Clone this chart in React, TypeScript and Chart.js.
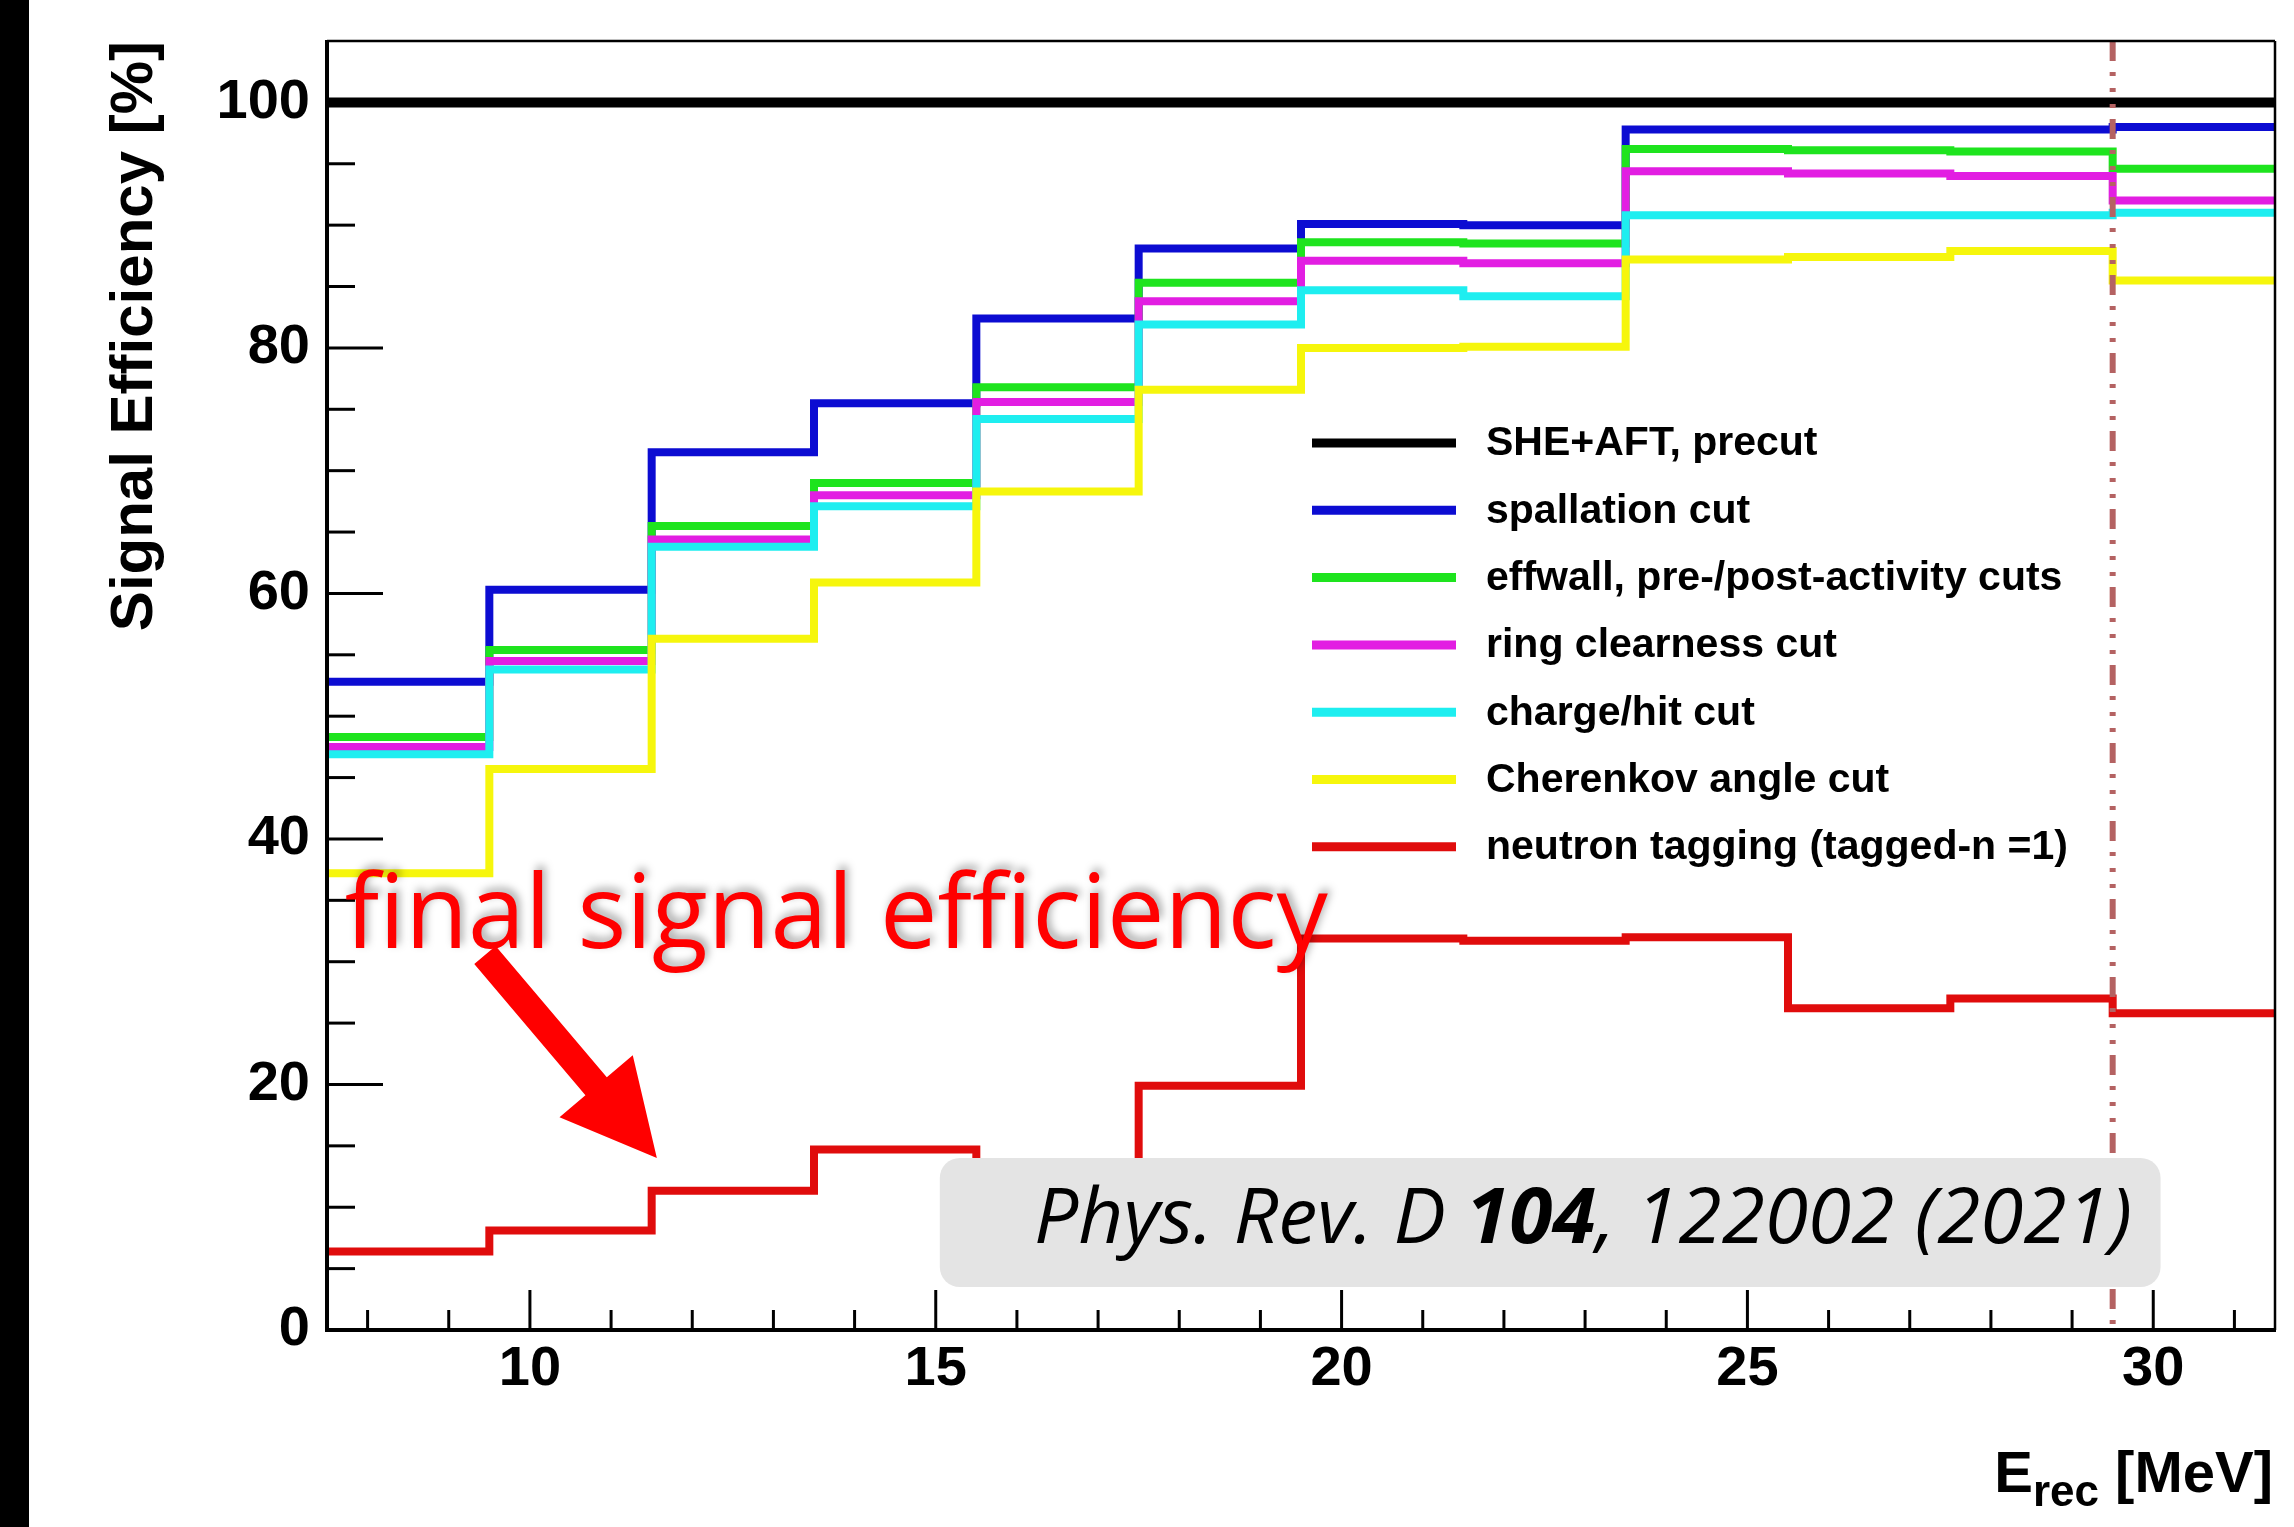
import { useEffect, useRef } from 'react';
import { Chart, registerables } from 'chart.js';

Chart.register(...registerables);

// ---------------- data ----------------
const binEdges = [7.5, 9.5, 11.5, 13.5, 15.5, 17.5, 19.5, 21.5, 23.5, 25.5, 27.5, 29.5, 31.5];

const precut = [100, 100, 100, 100, 100, 100, 100, 100, 100, 100, 100, 100];
const spallation = [52.8, 60.3, 71.5, 75.5, 82.4, 88.1, 90.1, 90.0, 97.8, 97.8, 97.8, 98.0];
const effwall = [48.3, 55.4, 65.5, 69.0, 76.8, 85.3, 88.6, 88.5, 96.2, 96.1, 96.0, 94.6];
const ringClearness = [47.5, 54.5, 64.4, 68.0, 75.6, 83.8, 87.1, 86.9, 94.4, 94.2, 94.0, 92.0];
const chargeHit = [46.9, 53.8, 63.8, 67.1, 74.2, 81.9, 84.7, 84.2, 90.8, 90.8, 90.8, 91.0];
const cherenkov = [37.2, 45.7, 56.3, 60.9, 68.3, 76.6, 80.0, 80.1, 87.2, 87.4, 87.9, 85.5];
const neutronTagging = [6.4, 8.1, 11.35, 14.7, 12.5, 19.9, 31.9, 31.7, 32.0, 26.2, 27.0, 25.8];

const seriesLabels = [
  'SHE+AFT, precut',
  'spallation cut',
  'effwall, pre-/post-activity cuts',
  'ring clearness cut',
  'charge/hit cut',
  'Cherenkov angle cut',
  'neutron tagging (tagged-n =1)',
];
const seriesValues = [precut, spallation, effwall, ringClearness, chargeHit, cherenkov, neutronTagging];
const seriesColors = ['#000000', '#0c0cd2', '#1ee41e', '#e21ee2', '#1eeef0', '#f6f60c', '#e00c0c'];

const xTickValues = [8, 9, 10, 11, 12, 13, 14, 15, 16, 17, 18, 19, 20, 21, 22, 23, 24, 25, 26, 27, 28, 29, 30, 31];
const xLabelValues = [10, 15, 20, 25, 30];
const yTickValues = [0, 5, 10, 15, 20, 25, 30, 35, 40, 45, 50, 55, 60, 65, 70, 75, 80, 85, 90, 95, 100];
const yLabelValues = [0, 20, 40, 60, 80, 100];

const cutEnergy = 29.5;
const annotationText = 'final signal efficiency';
const citationParts = [
  { text: 'Phys. Rev. D ', bold: false },
  { text: '104', bold: true },
  { text: ', 122002 (2021)', bold: false },
];

// ---------------- helpers ----------------
const W = 2294;
const H = 1527;
const AREA = { left: 327, top: 41, right: 2275, bottom: 1330 };
const TICK_FONT = 'Liberation Sans';

function toSteps(vals: number[]) {
  const pts = vals.map((v, i) => ({ x: binEdges[i], y: v }));
  pts.push({ x: binEdges[binEdges.length - 1], y: vals[vals.length - 1] });
  return pts;
}

const backgroundPlugin = {
  id: 'bg',
  beforeDraw(chart: any) {
    const { ctx } = chart;
    ctx.save();
    ctx.fillStyle = '#ffffff';
    ctx.fillRect(0, 0, chart.width, chart.height);
    ctx.fillStyle = '#000000';
    ctx.fillRect(0, 0, 29, chart.height);
    ctx.restore();
  },
};

const overlayPlugin = {
  id: 'overlay',
  afterDatasetsDraw(chart: any) {
    const { ctx, chartArea: a } = chart;
    const xs = chart.scales.x;
    const ys = chart.scales.y;
    const line = (x1: number, y1: number, x2: number, y2: number) => {
      ctx.beginPath();
      ctx.moveTo(x1, y1);
      ctx.lineTo(x2, y2);
      ctx.stroke();
    };
    ctx.save();

    // cut line (dash-dot-dot-dot)
    ctx.save();
    ctx.strokeStyle = '#b46262';
    ctx.lineWidth = 6;
    ctx.setLineDash([20, 11, 4, 12, 4, 12, 4, 11]);
    const cx = xs.getPixelForValue(cutEnergy);
    line(cx, a.top, cx, a.bottom);
    ctx.restore();

    // ticks (inside, ROOT style)
    ctx.strokeStyle = '#000';
    ctx.lineWidth = 3;
    ctx.lineCap = 'butt';
    xs.ticks.forEach((t: any) => {
      const px = xs.getPixelForValue(t.value);
      const len = xLabelValues.includes(t.value) ? 40 : 20;
      line(px, a.bottom, px, a.bottom - len);
    });
    ys.ticks.forEach((t: any) => {
      const py = ys.getPixelForValue(t.value);
      const len = yLabelValues.includes(t.value) ? 56 : 28;
      line(a.left, py, a.left + len, py);
    });

    // frame
    ctx.lineWidth = 2.5;
    line(a.left, a.top, a.right, a.top);
    line(a.right, a.top, a.right, a.bottom);
    ctx.lineWidth = 4;
    line(a.left, a.top - 1, a.left, a.bottom + 2);
    line(a.left - 2, a.bottom, a.right + 1, a.bottom);

    // legend
    const lx0 = a.left + 985;
    const lx1 = a.left + 1129;
    const tx = a.left + 1159;
    const row0 = a.top + 402;
    const step = 67.3;
    ctx.font = `bold 41px "${TICK_FONT}"`;
    ctx.textBaseline = 'middle';
    ctx.textAlign = 'left';
    chart.data.datasets.forEach((ds: any, i: number) => {
      const yy = row0 + i * step;
      ctx.strokeStyle = ds.borderColor;
      ctx.lineWidth = 9;
      line(lx0, yy, lx1, yy);
      ctx.fillStyle = '#000';
      ctx.fillText(ds.label, tx, yy + 1);
    });

    // x-axis title  E_rec [MeV]
    ctx.fillStyle = '#000';
    ctx.textBaseline = 'alphabetic';
    const mainFont = `bold 58px "${TICK_FONT}"`;
    const subFont = `bold 44px "${TICK_FONT}"`;
    ctx.font = mainFont;
    const wE = ctx.measureText('E').width;
    const wRest = ctx.measureText(' [MeV]').width;
    ctx.font = subFont;
    const wSub = ctx.measureText('rec').width;
    const baseY = 1492;
    let px0 = a.right - 2 - (wE + wSub + wRest);
    ctx.font = mainFont;
    ctx.fillText('E', px0, baseY);
    px0 += wE;
    ctx.font = subFont;
    ctx.fillText('rec', px0, baseY + 14);
    px0 += wSub;
    ctx.font = mainFont;
    ctx.fillText(' [MeV]', px0, baseY);

    // annotation text
    ctx.save();
    ctx.font = '103px "Open Sans"';
    ctx.fillStyle = '#ff0000';
    ctx.shadowColor = 'rgba(0,0,0,0.35)';
    ctx.shadowBlur = 8;
    ctx.shadowOffsetX = 3;
    ctx.shadowOffsetY = -4;
    const ax = xs.getPixelForValue(7.72);
    const ay = ys.getPixelForValue(31.1);
    const axEnd = xs.getPixelForValue(19.83);
    ctx.fillText(annotationText, ax, ay, axEnd - ax);
    ctx.restore();

    // arrow
    const sx = xs.getPixelForValue(9.446);
    const sy = ys.getPixelForValue(30.55);
    const tipX = xs.getPixelForValue(11.564);
    const tipY = ys.getPixelForValue(14.01);
    const dx = tipX - sx;
    const dy = tipY - sy;
    const len = Math.hypot(dx, dy);
    const ux = dx / len;
    const uy = dy / len;
    const nx = -uy;
    const ny = ux;
    const headLen = 94;
    const headHalf = 48;
    const shaftHalf = 14;
    const bx = tipX - ux * headLen;
    const by = tipY - uy * headLen;
    ctx.fillStyle = '#ff0000';
    ctx.beginPath();
    ctx.moveTo(sx + nx * shaftHalf, sy + ny * shaftHalf);
    ctx.lineTo(bx + nx * shaftHalf, by + ny * shaftHalf);
    ctx.lineTo(bx + nx * headHalf, by + ny * headHalf);
    ctx.lineTo(tipX, tipY);
    ctx.lineTo(bx - nx * headHalf, by - ny * headHalf);
    ctx.lineTo(bx - nx * shaftHalf, by - ny * shaftHalf);
    ctx.lineTo(sx - nx * shaftHalf, sy - ny * shaftHalf);
    ctx.closePath();
    ctx.fill();

    // citation box
    const bl = xs.getPixelForValue(15.05);
    const br = xs.getPixelForValue(30.09);
    const bt = ys.getPixelForValue(14.01);
    const bb = ys.getPixelForValue(3.5);
    ctx.fillStyle = '#e4e4e4';
    ctx.beginPath();
    ctx.roundRect(bl, bt, br - bl, bb - bt, 20);
    ctx.fill();

    const fontFor = (bold: boolean) => `italic ${bold ? 'bold ' : ''}77px "Open Sans"`;
    let total = 0;
    const widths = citationParts.map((p) => {
      ctx.font = fontFor(p.bold);
      const w = ctx.measureText(p.text).width;
      total += w;
      return w;
    });
    const tl = xs.getPixelForValue(16.21);
    const tr = xs.getPixelForValue(29.74);
    const scaleX = Math.max(0.8, Math.min(1.2, (tr - tl) / total));
    ctx.save();
    ctx.translate(tl, ys.getPixelForValue(7.09));
    ctx.scale(scaleX, 1);
    ctx.fillStyle = '#000';
    ctx.textAlign = 'left';
    ctx.textBaseline = 'alphabetic';
    let cur = 0;
    citationParts.forEach((p, i) => {
      ctx.font = fontFor(p.bold);
      ctx.fillText(p.text, cur, 0);
      cur += widths[i];
    });
    ctx.restore();

    ctx.restore();
  },
};

export default function App() {
  const ref = useRef<HTMLCanvasElement | null>(null);

  useEffect(() => {
    document.body.style.margin = '0';
    const canvas = ref.current;
    if (!canvas) return;
    Chart.defaults.font.family = TICK_FONT;
    const chart = new Chart(canvas, {
      type: 'line',
      data: {
        datasets: seriesLabels.map((label, i) => ({
          label,
          data: toSteps(seriesValues[i]),
          borderColor: seriesColors[i],
          backgroundColor: seriesColors[i],
          borderWidth: i === 0 ? 10 : 8,
          stepped: true,
          pointRadius: 0,
          pointHoverRadius: 0,
          fill: false,
          tension: 0,
          order: 10 - i,
          clip: 0,
          borderJoinStyle: 'miter',
          borderCapStyle: 'butt',
        })),
      },
      options: {
        animation: false,
        responsive: false,
        maintainAspectRatio: false,
        devicePixelRatio: 1,
        events: [],
        layout: { padding: { left: 0, top: AREA.top, right: W - AREA.right, bottom: 0 } },
        plugins: {
          legend: { display: false },
          tooltip: { enabled: false },
          title: { display: false },
        },
        scales: {
          x: {
            type: 'linear',
            min: binEdges[0],
            max: binEdges[binEdges.length - 1],
            grid: { display: false, drawTicks: false },
            border: { display: false },
            afterBuildTicks: (s: any) => {
              s.ticks = xTickValues.map((v) => ({ value: v }));
            },
            afterFit: (s: any) => {
              s.height = H - AREA.bottom;
              s.paddingLeft = 0;
              s.paddingRight = 0;
            },
            ticks: {
              autoSkip: false,
              maxRotation: 0,
              minRotation: 0,
              padding: 6,
              color: '#000',
              font: { family: TICK_FONT, size: 56, weight: 'bold' },
              callback: (v: any) => (xLabelValues.includes(Number(v)) ? String(v) : ''),
            },
          },
          y: {
            type: 'linear',
            min: 0,
            max: 105,
            grid: { display: false, drawTicks: false },
            border: { display: false },
            afterBuildTicks: (s: any) => {
              s.ticks = yTickValues.map((v) => ({ value: v }));
            },
            afterFit: (s: any) => {
              s.width = AREA.left;
              s.paddingTop = 0;
              s.paddingBottom = 0;
            },
            ticks: {
              autoSkip: false,
              padding: 17,
              color: '#000',
              font: { family: TICK_FONT, size: 56, weight: 'bold' },
              callback: (v: any) => (yLabelValues.includes(Number(v)) ? String(v) : ''),
            },
            title: {
              display: true,
              text: 'Signal Efficiency [%]',
              align: 'end',
              color: '#000',
              font: { family: TICK_FONT, size: 60, weight: 'bold', lineHeight: 1.2 },
              padding: { top: 99, bottom: 0 },
            },
          },
        },
      } as any,
      plugins: [backgroundPlugin, overlayPlugin],
    });
    return () => chart.destroy();
  }, []);

  return (
    <div style={{ position: 'fixed', left: 0, top: 0, width: W, height: H, background: '#fff' }}>
      <canvas ref={ref} width={W} height={H} style={{ display: 'block', width: W, height: H }} />
    </div>
  );
}
